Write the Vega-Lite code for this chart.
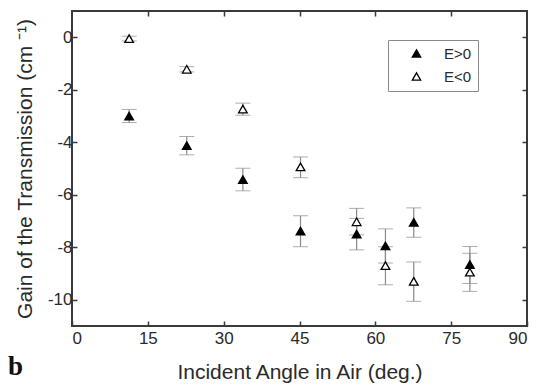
{
  "$schema": "https://vega.github.io/schema/vega-lite/v6.json",
  "width": 455,
  "height": 315,
  "autosize": "none",
  "padding": {"left": 72, "top": 11, "right": 9, "bottom": 59},
  "background": "white",
  "config": {
    "font": "Liberation Sans",
    "view": {"stroke": "#3a3a3a", "strokeWidth": 2},
    "axis": {
      "domain": false,
      "grid": false,
      "ticks": true,
      "tickSize": -5,
      "tickColor": "#3a3a3a",
      "tickWidth": 1.5,
      "labelFont": "Liberation Sans",
      "labelFontSize": 17,
      "labelColor": "#2a2a2a",
      "titleFont": "Liberation Sans",
      "titleFontSize": 21,
      "titleFontWeight": "normal",
      "titleColor": "#2a2a2a"
    }
  },
  "title": {
    "text": "b",
    "orient": "bottom",
    "anchor": "start",
    "frame": "group",
    "font": "Liberation Serif",
    "fontWeight": "bold",
    "fontSize": 27,
    "color": "#111",
    "dx": -64,
    "offset": -28
  },
  "data": {
    "values": [
      {"series": "E>0", "angle": 11.3, "gain": -3.0, "low": -3.25, "high": -2.75},
      {"series": "E>0", "angle": 22.7, "gain": -4.13, "low": -4.48, "high": -3.78},
      {"series": "E>0", "angle": 33.8, "gain": -5.42, "low": -5.85, "high": -4.99},
      {"series": "E>0", "angle": 45.2, "gain": -7.38, "low": -7.98, "high": -6.8},
      {"series": "E>0", "angle": 56.3, "gain": -7.5, "low": -8.1, "high": -6.9},
      {"series": "E>0", "angle": 62.0, "gain": -7.95, "low": -8.6, "high": -7.3},
      {"series": "E>0", "angle": 67.6, "gain": -7.05, "low": -7.62, "high": -6.5},
      {"series": "E>0", "angle": 78.7, "gain": -8.66, "low": -9.38, "high": -7.97},
      {"series": "E<0", "angle": 11.3, "gain": -0.05, "low": -0.14, "high": 0.04},
      {"series": "E<0", "angle": 22.7, "gain": -1.22, "low": -1.32, "high": -1.12},
      {"series": "E<0", "angle": 33.8, "gain": -2.74, "low": -2.97, "high": -2.51},
      {"series": "E<0", "angle": 45.2, "gain": -4.94, "low": -5.35, "high": -4.56},
      {"series": "E<0", "angle": 56.3, "gain": -7.03, "low": -7.53, "high": -6.52},
      {"series": "E<0", "angle": 62.0, "gain": -8.7, "low": -9.43, "high": -7.98},
      {"series": "E<0", "angle": 67.6, "gain": -9.3, "low": -10.06, "high": -8.56},
      {"series": "E<0", "angle": 78.7, "gain": -8.95, "low": -9.68, "high": -8.23}
    ]
  },
  "layer": [
    {
      "mark": {"type": "errorbar", "ticks": {"size": 15, "color": "#8a8a8a", "strokeWidth": 1.2}, "rule": {"color": "#8a8a8a", "strokeWidth": 1.2}},
      "encoding": {
        "x": {"field": "angle", "type": "quantitative", "scale": {"domain": [0, 90]},
              "axis": {"orient": "top", "values": [15, 30, 45, 60, 75], "labels": false, "title": null}},
        "y": {"field": "low", "type": "quantitative", "scale": {"domain": [-11, 1]},
              "axis": {"orient": "right", "values": [0, -2, -4, -6, -8, -10], "labels": false, "title": null}},
        "y2": {"field": "high"}
      }
    },
    {
      "mark": {"type": "point", "shape": "triangle-up", "size": 75, "filled": false, "stroke": "black", "strokeWidth": 1.3, "opacity": 1},
      "encoding": {
        "x": {"field": "angle", "type": "quantitative", "scale": {"domain": [0, 90]},
              "axis": {"orient": "bottom", "values": [0, 15, 30, 45, 60, 75, 90], "title": "Incident Angle in Air (deg.)", "labelPadding": 9, "titlePadding": 15}},
        "y": {"field": "gain", "type": "quantitative", "scale": {"domain": [-11, 1]},
              "axis": {"orient": "left", "values": [0, -2, -4, -6, -8, -10], "labelExpr": "replace(datum.label, '\u2212', '-')", "title": "Gain of the Transmission (cm ⁻¹)", "labelPadding": 5, "titlePadding": 12}},
        "fill": {"field": "series", "type": "nominal",
                 "scale": {"domain": ["E>0", "E<0"], "range": ["black", "white"]},
                 "legend": {
                   "title": null,
                   "orient": "none",
                   "legendX": 316,
                   "legendY": 29,
                   "strokeColor": "#8a8a8a",
                   "fillColor": "white",
                   "padding": 6,
                   "rowPadding": 7,
                   "symbolType": "triangle-up",
                   "symbolSize": 70,
                   "symbolStrokeColor": "black",
                   "symbolStrokeWidth": 1.3,
                   "symbolOffset": 15,
                   "labelOffset": 20,
                   "labelFont": "Liberation Sans",
                   "labelFontSize": 15,
                   "labelColor": "#2a2a2a"
                 }}
      }
    }
  ],
  "resolve": {"axis": {"x": "independent", "y": "independent"}}
}
